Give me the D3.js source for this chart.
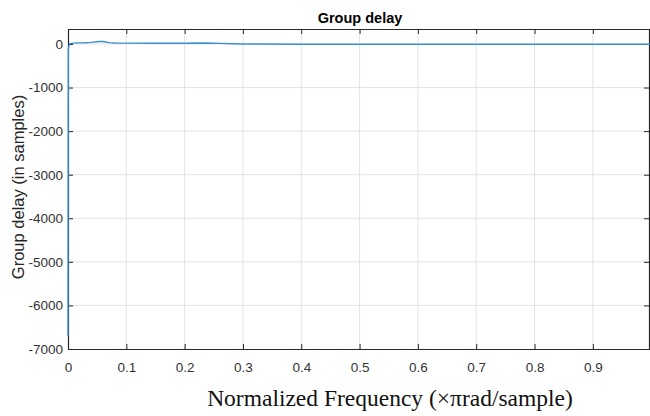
<!DOCTYPE html>
<html><head><meta charset="utf-8">
<script src="https://cdn.jsdelivr.net/npm/d3@7"></script>
<style>body{margin:0;background:#fff;}svg{display:block;}</style>
</head><body>
<svg id="c" width="650" height="416"></svg>
<script>
const freq  = [0, 0.0005, 0.003, 0.01, 0.02, 0.03, 0.04, 0.05, 0.055, 0.06, 0.065, 0.07, 0.08, 0.1, 0.15, 0.2, 0.23, 0.26, 0.3, 0.4, 0.5, 0.6, 0.7, 0.8, 0.9, 0.998];
const delay = [-6700, -100, 10, 20, 25, 30, 38, 52, 60, 58, 45, 32, 24, 20, 18, 18, 22, 15, 0, -5, -5, -5, -5, -5, -5, -5];
const xTicks = [0, 0.1, 0.2, 0.3, 0.4, 0.5, 0.6, 0.7, 0.8, 0.9];
const yTicks = [0, -1000, -2000, -3000, -4000, -5000, -6000, -7000];
const xDomain = [0, 0.998];
const yDomain = [-7000, 344];
const titleText = "Group delay";
const xLabel = "Normalized Frequency (\u00d7\u03c0rad/sample)";
const yLabel = "Group delay (in samples)";

const svg = d3.select("#c");
const L = 68, R = 650, T = 29, B = 349;
const x = d3.scaleLinear().domain(xDomain).range([L, R]);
const y = d3.scaleLinear().domain(yDomain).range([B, T]);
const axisCol = "#262626";

// grid
const g = svg.append("g");
g.selectAll(".gx").data(xTicks.slice(1)).enter().append("line")
  .attr("x1", d => x(d)).attr("x2", d => x(d)).attr("y1", T).attr("y2", B)
  .attr("stroke", "#e3e3e3").attr("stroke-width", 1);
g.selectAll(".gy").data(yTicks.slice(0, -1)).enter().append("line")
  .attr("x1", L).attr("x2", R).attr("y1", d => y(d)).attr("y2", d => y(d))
  .attr("stroke", "#e3e3e3").attr("stroke-width", 1);

// axes
const fmtX = d => d === 0 ? "0" : d3.format(".1f")(d);
const xb = svg.append("g").attr("transform", `translate(0,${B})`)
  .call(d3.axisBottom(x).tickValues(xTicks).tickFormat(fmtX).tickSizeInner(-5).tickSizeOuter(0).tickPadding(13));
const xt = svg.append("g").attr("transform", `translate(0,${T})`)
  .call(d3.axisTop(x).tickValues(xTicks).tickFormat("").tickSizeInner(-5).tickSizeOuter(0));
const yl = svg.append("g").attr("transform", `translate(${L},0)`)
  .call(d3.axisLeft(y).tickValues(yTicks).tickFormat(d3.format("d")).tickSizeInner(-5).tickSizeOuter(0).tickPadding(5));
const yr = svg.append("g").attr("transform", `translate(${R - 1},0)`)
  .call(d3.axisRight(y).tickValues(yTicks).tickFormat("").tickSizeInner(-5).tickSizeOuter(0));
[xb, xt, yl, yr].forEach(a => {
  a.select(".domain").attr("stroke", axisCol).attr("stroke-width", 1.2);
  a.selectAll(".tick line").attr("stroke", axisCol);
  a.selectAll(".tick text").attr("fill", "#333").style("font-family", "Liberation Sans, Arial, sans-serif").style("font-size", "13.5px");
});
yl.selectAll(".tick text").text(d => d === 0 ? "0" : String(d));

// line (drawn over the axes, like the reference)
svg.append("clipPath").attr("id", "clip").append("rect")
  .attr("x", L - 1).attr("y", T).attr("width", R - L + 1).attr("height", B - T);
svg.append("path").datum(freq.map((f, i) => [f, delay[i]]))
  .attr("clip-path", "url(#clip)")
  .attr("fill", "none").attr("stroke", "#3a8fd0").attr("stroke-width", 1.4)
  .attr("d", d3.line().x(d => x(d[0])).y(d => y(d[1])));

// texts
svg.append("text").attr("x", 360).attr("y", 23).attr("text-anchor", "middle")
  .style("font-family", "Liberation Sans, Arial, sans-serif").style("font-weight", "bold").style("font-size", "14.5px")
  .attr("fill", "#000").text(titleText);
svg.append("text").attr("x", 390).attr("y", 406).attr("text-anchor", "middle")
  .style("font-family", "Liberation Serif, Times New Roman, serif").style("font-size", "23.5px")
  .attr("fill", "#111").text(xLabel);
svg.append("text").attr("transform", "translate(24,187) rotate(-90)").attr("text-anchor", "middle")
  .style("font-family", "Liberation Sans, Arial, sans-serif").style("font-size", "16.5px")
  .attr("fill", axisCol).text(yLabel);
</script>
</body></html>
